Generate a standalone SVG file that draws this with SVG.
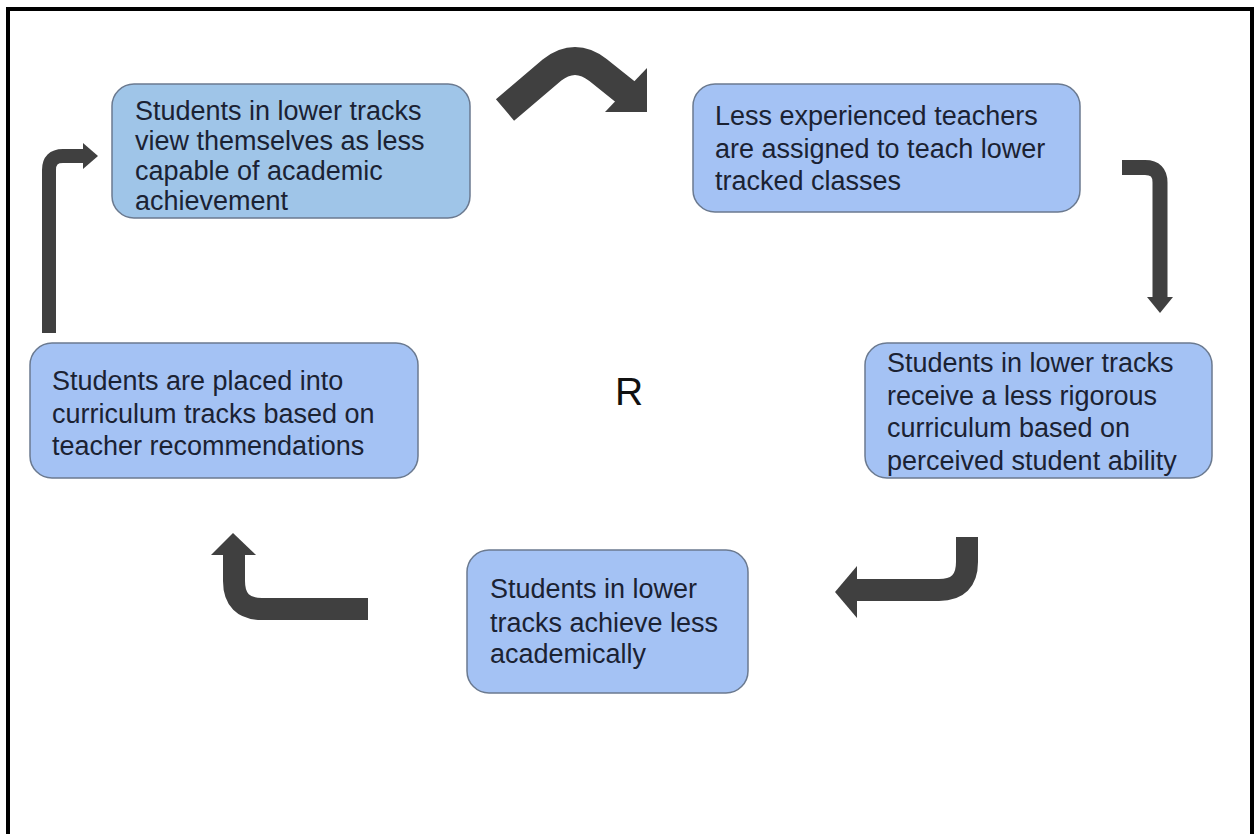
<svg xmlns="http://www.w3.org/2000/svg" width="1256" height="834" viewBox="0 0 1256 834">
  <defs>
    <style>
      .box { stroke: #6b7a90; stroke-width: 1.5; }
      .b1 { fill: #9fc5e8; }
      .b2 { fill: #a4c2f4; }
      .t { font-family: "Liberation Sans", Arial, sans-serif; font-size: 27px; fill: #1b2233; }
      .arr { fill: none; stroke: #404040; stroke-linejoin: round; }
      .head { fill: #404040; }
    </style>
  </defs>
  <rect x="0" y="0" width="1256" height="834" fill="#ffffff"/>
  <rect x="8" y="9" width="1244" height="860" fill="none" stroke="#000000" stroke-width="4"/>

  <g id="connectors">
    <!-- top chevron arrow -->
    <path class="arr" d="M505,110 L552,70 Q575,52 598,70 L628,94" stroke-width="28"/>
    <polygon class="head" points="647,68 647,112 605,112"/>
    <!-- right down arrow -->
    <path class="arr" d="M1122,167.5 L1145,167.5 Q1160,167.5 1160,182.5 L1160,298" stroke-width="15"/>
    <polygon class="head" points="1147,297 1173,297 1160,313"/>
    <!-- bottom-right arrow -->
    <path class="arr" d="M967,537 L967,562 Q967,590 939,590 L856,590" stroke-width="22"/>
    <polygon class="head" points="857,566 857,618 835,592"/>
    <!-- bottom-left arrow -->
    <path class="arr" d="M368,609 L262,609 Q234,609 234,581 L234,554" stroke-width="22"/>
    <polygon class="head" points="211,555 256,555 233,533"/>
    <!-- left up arrow -->
    <path class="arr" d="M49,333 L49,170 Q49,156 63,156 L84,156" stroke-width="14"/>
    <polygon class="head" points="83,143 83,169 98,156"/>
  </g>

  <g id="node1">
    <rect class="box b1" x="112" y="84" width="358" height="134" rx="22"/>
    <text class="t" x="135" y="120">Students in lower tracks</text>
    <text class="t" x="135" y="150">view themselves as less</text>
    <text class="t" x="135" y="180">capable of academic</text>
    <text class="t" x="135" y="210">achievement</text>
  </g>

  <g id="node2">
    <rect class="box b2" x="693" y="84" width="387" height="128" rx="22"/>
    <text class="t" x="715" y="125">Less experienced teachers</text>
    <text class="t" x="715" y="158">are assigned to teach lower</text>
    <text class="t" x="715" y="190">tracked classes</text>
  </g>

  <g id="node3">
    <rect class="box b2" x="865" y="343" width="347" height="135" rx="22"/>
    <text class="t" x="887" y="372">Students in lower tracks</text>
    <text class="t" x="887" y="405">receive a less rigorous</text>
    <text class="t" x="887" y="437">curriculum based on</text>
    <text class="t" x="887" y="470">perceived student ability</text>
  </g>

  <g id="node4">
    <rect class="box b2" x="467" y="550" width="281" height="143" rx="22"/>
    <text class="t" x="490" y="598">Students in lower</text>
    <text class="t" x="490" y="632">tracks achieve less</text>
    <text class="t" x="490" y="663">academically</text>
  </g>

  <g id="node5">
    <rect class="box b2" x="30" y="343" width="388" height="135" rx="22"/>
    <text class="t" x="52" y="390">Students are placed into</text>
    <text class="t" x="52" y="423">curriculum tracks based on</text>
    <text class="t" x="52" y="455">teacher recommendations</text>
  </g>

  <g id="label-R">
    <text x="615" y="405" style="font-family: 'Liberation Sans', Arial, sans-serif; font-size: 39px; fill: #111111;">R</text>
  </g>
</svg>
